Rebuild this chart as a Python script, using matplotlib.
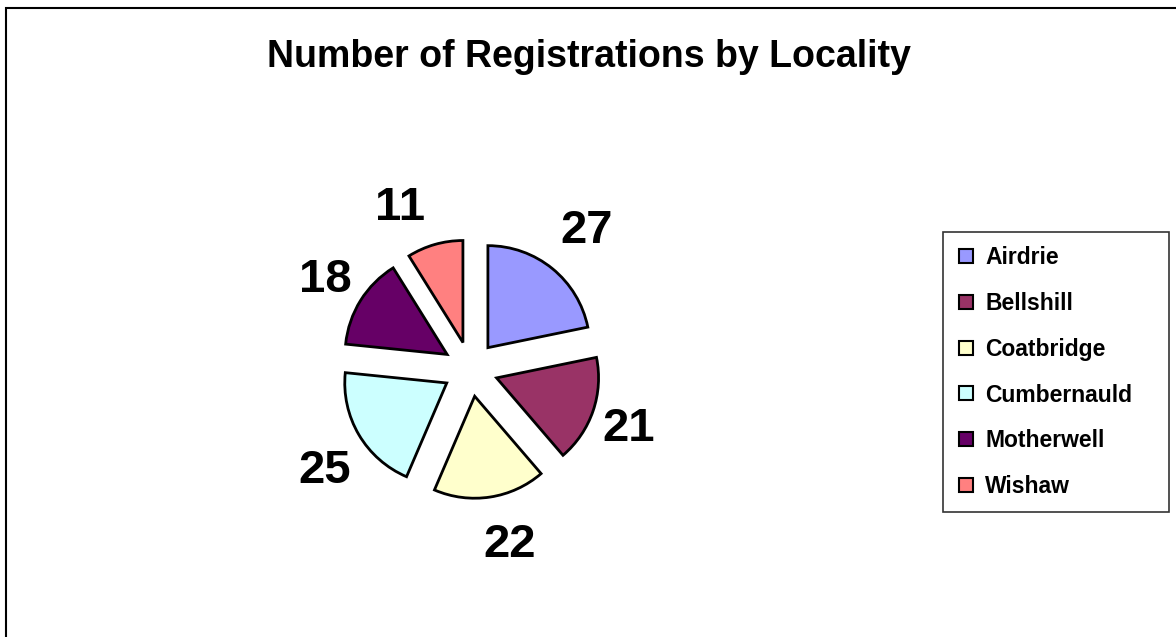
import matplotlib.pyplot as plt
from matplotlib.lines import Line2D
from matplotlib.patches import Rectangle

plt.rcParams['font.family'] = ['Liberation Sans', 'DejaVu Sans']

localities = ['Airdrie', 'Bellshill', 'Coatbridge', 'Cumbernauld', 'Motherwell', 'Wishaw']
registrations = [27, 21, 22, 25, 18, 11]
colours = ['#9999FF', '#993366', '#FFFFCC', '#CCFFFF', '#660066', '#FF8080']
# small label nudges (px: right, up) to mimic Excel's label placement
label_nudge = [(5, 7), (-8, 2), (13, 2), (5, -8), (4, 1), (-22, -3)]

W, H = 1176, 637
fig = plt.figure(figsize=(W / 100, H / 100), dpi=100)

# outer chart border (open on right / bottom like the original)
fig.patches.append(Rectangle((5.5 / W, -0.1), 1.2, 1 - 7.5 / H + 0.1,
                             transform=fig.transFigure, fill=False,
                             edgecolor='black', linewidth=1.5))

fig.text(589 / W, 1 - 57 / H, 'Number of Registrations by Locality',
         ha='center', va='center', fontsize=27, fontweight='bold')

# pie axes: centre at (470, 369) px, radius 102 px
r_px = 102.0
cx, cy = 470.5, 369.0
half = 300.0
ax = fig.add_axes([(cx - half) / W, 1 - (cy + half) / H, 2 * half / W, 2 * half / H])

wedges, texts = ax.pie(registrations, labels=[str(v) for v in registrations],
                       colors=colours, startangle=90, counterclock=False,
                       explode=[0.27] * len(registrations), labeldistance=1.45,
                       wedgeprops=dict(edgecolor='black', linewidth=2),
                       textprops=dict(fontsize=34, fontweight='bold'))
for t, (dx, dy) in zip(texts, label_nudge):
    x, y = t.get_position()
    t.set_position((x + dx / r_px, y + dy / r_px))
    t.set_ha('center')
    t.set_va('center_baseline')
ax.set_xlim(-half / r_px, half / r_px)
ax.set_ylim(-half / r_px, half / r_px)
ax.set_aspect('equal')
ax.axis('off')

handles = [Line2D([], [], linestyle='none', marker='s', markersize=10.5,
                  markerfacecolor=c, markeredgecolor='black', markeredgewidth=1.5)
           for c in colours]
lx0, ly1, lx1 = 943 / W, 1 - 232 / H, 1169 / W
leg = fig.legend(handles, localities, loc='upper left',
                 bbox_to_anchor=(lx0, ly1 - 0.01, lx1 - lx0, 0.01), mode='expand',
                 borderaxespad=0, prop=dict(size=16.5, weight='bold'),
                 frameon=True, fancybox=False,
                 handlelength=0.8, handletextpad=0.45, labelspacing=1.0,
                 borderpad=0.6)
leg.get_frame().set_edgecolor('black')
leg.get_frame().set_linewidth(1.2)

fig.savefig('out.png', dpi=100)
